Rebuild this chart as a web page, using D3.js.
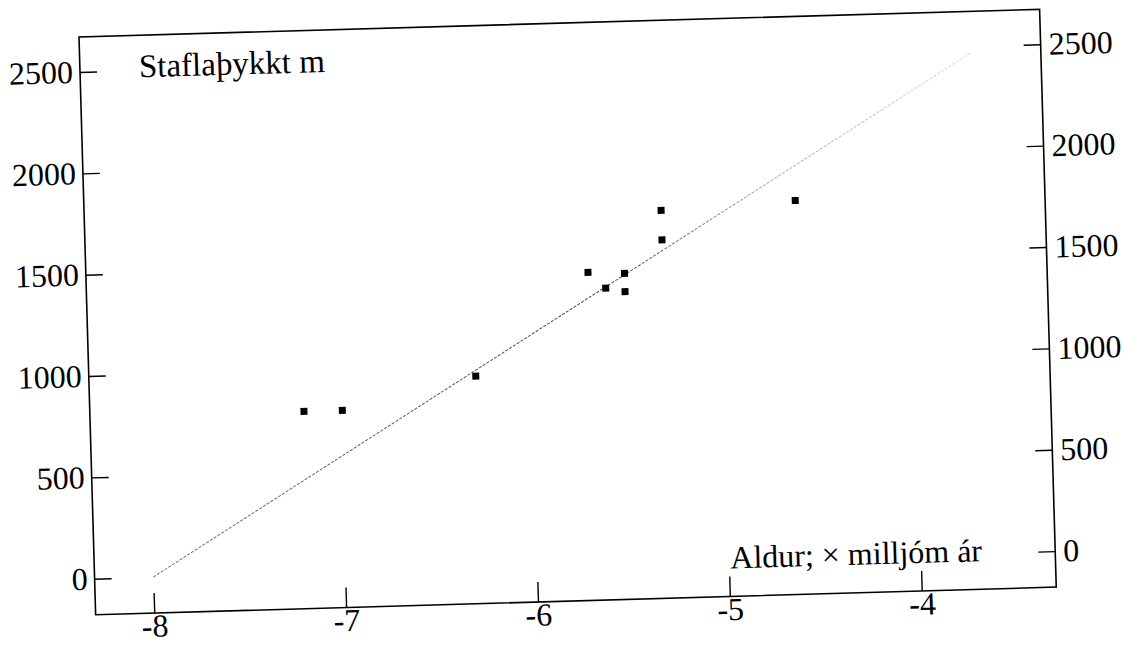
<!DOCTYPE html>
<html>
<head>
<meta charset="utf-8">
<script src="https://cdn.jsdelivr.net/npm/d3@7"></script>
<style>
  body { margin: 0; background: #fff; }
  svg { display: block; }
  text { font-family: "Liberation Serif", "Times New Roman", serif; fill: #000; }
</style>
</head>
<body>
<div id="vis-container"></div>
<script>
// data
const ageX = [-7.19, -6.99, -6.29, -5.69, -5.60, -5.50, -5.50, -5.30, -5.30, -4.60];
const thickY = [795, 795, 945, 1440, 1360, 1430, 1340, 1735, 1590, 1765];
const fitX = [-8, -3.67];
const fitY = [0, 2465];
const xTicks = [-8, -7, -6, -5, -4];
const yTicks = [0, 500, 1000, 1500, 2000, 2500];
const yTitle = "Staflaþykkt m";
const xTitle = "Aldur; × milljóm ár";

const width = 1123, height = 645;
const boxW = 961, boxH = 578;

let svg = d3.select('#vis-container')
  .append('svg')
  .attr('width', width)
  .attr('height', height);

// the scanned page is a little tilted
let g = svg.append("g").attr("transform", "translate(79,37) rotate(-1.65)");

let x = d3.scaleLinear().domain([-8, -4]).range([58.6, 826.4]);
let y = d3.scaleLinear().domain([0, 2500]).range([542, 35]);

g.append("rect")
  .attr("width", boxW).attr("height", boxH)
  .attr("fill", "none").attr("stroke", "#000").attr("stroke-width", 1.6);

const fmt = d => String(d);

let axL = g.append("g")
  .call(d3.axisLeft(y).tickValues(yTicks).tickFormat(fmt).tickSize(-17).tickSizeOuter(0).tickPadding(7));
let axR = g.append("g").attr("transform", `translate(${boxW},0)`)
  .call(d3.axisRight(y).tickValues(yTicks).tickFormat(fmt).tickSize(-17).tickSizeOuter(0).tickPadding(8));
let axB = g.append("g").attr("transform", `translate(0,${boxH})`)
  .call(d3.axisBottom(x).tickValues(xTicks).tickFormat(fmt).tickSize(-20).tickSizeOuter(0).tickPadding(1));

[axL, axR, axB].forEach(a => {
  a.select(".domain").remove();
  a.selectAll(".tick line").attr("stroke", "#000").attr("stroke-width", 1.4);
  a.selectAll(".tick text").attr("font-size", 32).attr("font-family", "Liberation Serif, serif").attr("fill", "#000");
});

// fitted line, fading out toward the top like the print
let grad = svg.append("defs").append("linearGradient")
  .attr("id", "fade").attr("gradientUnits", "userSpaceOnUse")
  .attr("x1", x(fitX[0])).attr("y1", y(fitY[0]))
  .attr("x2", x(fitX[1])).attr("y2", y(fitY[1]));
grad.append("stop").attr("offset", 0).attr("stop-color", "#777");
grad.append("stop").attr("offset", 0.55).attr("stop-color", "#444");
grad.append("stop").attr("offset", 0.75).attr("stop-color", "#aaa");
grad.append("stop").attr("offset", 1).attr("stop-color", "#ddd");

let line = d3.line().x(d => x(d[0])).y(d => y(d[1]));
g.append("path")
  .datum(fitX.map((v, i) => [v, fitY[i]]))
  .attr("fill", "none")
  .attr("stroke", "url(#fade)")
  .attr("stroke-width", 1)
  .attr("stroke-dasharray", "3,1.5")
  .attr("d", line);

const s = 7;
g.selectAll("rect.pt")
  .data(ageX.map((v, i) => [v, thickY[i]]))
  .enter().append("rect")
  .attr("class", "pt")
  .attr("x", d => x(d[0]) - s / 2)
  .attr("y", d => y(d[1]) - s / 2)
  .attr("width", s).attr("height", s)
  .attr("fill", "#000");

g.append("text")
  .attr("x", 59).attr("y", 42)
  .attr("font-size", 33)
  .text(yTitle);

g.append("text")
  .attr("x", 636).attr("y", 550)
  .attr("font-size", 32)
  .text(xTitle);
</script>
</body>
</html>
